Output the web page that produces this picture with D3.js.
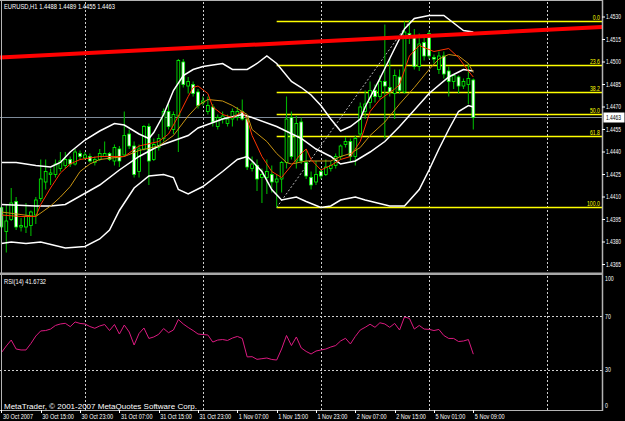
<!DOCTYPE html>
<html>
<head>
<meta charset="utf-8">
<script src="https://cdn.jsdelivr.net/npm/d3@7"></script>
<style>
body { margin: 0; background: #000; }
svg { display: block; }
text { font-family: "Liberation Sans", Arial, sans-serif; }
</style>
</head>
<body>
<script>
// EURUSD H1 candles, bar 0 = 30 Oct 2007 07:00
var openP = [1.4403,1.4387,1.4395,1.4407,1.4390,1.4390,1.4391,1.4398,1.4409,1.4420,
  1.4425,1.4425,1.4429,1.4431,1.4435,1.4432,1.4439,1.4436,1.4437,1.4433,
  1.4435,1.4437,1.4439,1.4434,1.4442,1.4438,1.4452,1.4444,1.4427,1.4442,
  1.4457,1.4435,1.4443,1.4449,1.4467,1.4455,1.4464,1.4500,1.4484,1.4485,
  1.4480,1.4473,1.4467,1.4470,1.4457,1.4462,1.4459,1.4462,1.4463,1.4467,
  1.4462,1.4429,1.4431,1.4423,1.4423,1.4425,1.4420,1.4422,1.4433,1.4463,
  1.4434,1.4460,1.4433,1.4423,1.4420,1.4427,1.4425,1.4429,1.4431,1.4437,
  1.4445,1.4447,1.4437,1.4452,1.4467,1.4473,1.4481,1.4477,1.4487,1.4483,
  1.4479,1.4490,1.4480,1.4519,1.4517,1.4497,1.4513,1.4519,1.4503,1.4495,
  1.4504,1.4494,1.4487,1.4490,1.4484,1.4485,1.4488];
var highP = [1.4408,1.4405,1.4416,1.4410,1.4396,1.4406,1.4401,1.4410,1.4435,1.4435,
  1.4429,1.4435,1.4440,1.4440,1.4437,1.4442,1.4441,1.4440,1.4439,1.4437,
  1.4442,1.4447,1.4440,1.4445,1.4444,1.4467,1.4455,1.4447,1.4445,1.4458,
  1.4459,1.4449,1.4452,1.4469,1.4472,1.4467,1.4502,1.4502,1.4490,1.4487,
  1.4482,1.4477,1.4477,1.4472,1.4465,1.4467,1.4465,1.4469,1.4470,1.4475,
  1.4464,1.4437,1.4435,1.4429,1.4435,1.4431,1.4425,1.4434,1.4477,1.4467,
  1.4464,1.4463,1.4442,1.4427,1.4434,1.4429,1.4435,1.4434,1.4439,1.4445,
  1.4450,1.4449,1.4451,1.4473,1.4481,1.4487,1.4485,1.4491,1.4525,1.4502,
  1.4495,1.4495,1.4527,1.4528,1.4522,1.4519,1.4517,1.4521,1.4505,1.4507,
  1.4507,1.4497,1.4492,1.4491,1.4489,1.4499,1.4489];
var lowP = [1.4378,1.4373,1.4394,1.4388,1.4387,1.4386,1.4384,1.4392,1.4407,1.4415,
  1.4418,1.4423,1.4427,1.4429,1.4430,1.4431,1.4435,1.4435,1.4433,1.4431,
  1.4434,1.4437,1.4434,1.4431,1.4430,1.4437,1.4442,1.4423,1.4423,1.4441,
  1.4418,1.4434,1.4441,1.4447,1.4455,1.4452,1.4440,1.4483,1.4479,1.4477,
  1.4469,1.4471,1.4465,1.4457,1.4455,1.4459,1.4457,1.4457,1.4461,1.4461,
  1.4428,1.4427,1.4414,1.4406,1.4412,1.4413,1.4403,1.4413,1.4429,1.4435,
  1.4429,1.4432,1.4422,1.4415,1.4418,1.4422,1.4424,1.4427,1.4429,1.4435,
  1.4443,1.4434,1.4431,1.4450,1.4462,1.4469,1.4473,1.4475,1.4449,1.4477,
  1.4462,1.4479,1.4479,1.4512,1.4495,1.4494,1.4501,1.4502,1.4499,1.4492,
  1.4489,1.4477,1.4482,1.4479,1.4482,1.4472,1.4455];
var closeP = [1.4390,1.4394,1.4406,1.4390,1.4391,1.4397,1.4400,1.4408,1.4422,1.4427,
  1.4426,1.4432,1.4434,1.4435,1.4432,1.4440,1.4437,1.4438,1.4434,1.4435,
  1.4439,1.4439,1.4435,1.4443,1.4434,1.4451,1.4444,1.4425,1.4442,1.4457,
  1.4434,1.4445,1.4449,1.4467,1.4457,1.4465,1.4501,1.4485,1.4487,1.4479,
  1.4471,1.4474,1.4471,1.4460,1.4463,1.4464,1.4462,1.4467,1.4467,1.4462,
  1.4430,1.4432,1.4422,1.4425,1.4427,1.4420,1.4422,1.4433,1.4462,1.4437,
  1.4459,1.4434,1.4424,1.4418,1.4425,1.4424,1.4430,1.4431,1.4437,1.4444,
  1.4447,1.4437,1.4449,1.4470,1.4472,1.4481,1.4477,1.4487,1.4484,1.4480,
  1.4491,1.4481,1.4520,1.4517,1.4497,1.4512,1.4504,1.4504,1.4502,1.4504,
  1.4492,1.4487,1.4491,1.4484,1.4487,1.4489,1.4463];

// indicator lines as [bar, price]
var upperBand = [[0,1.4433],[3,1.4433],[7,1.4431],[10,1.4430],[12,1.4433],[14,1.4440],[17,1.4448],
  [20,1.4454],[23,1.4459],[25,1.4458],[28,1.4452],[30,1.4449],[31,1.4453],[33,1.4465],[35,1.4481],
  [37,1.4491],[39,1.4495],[41,1.4497],[45,1.4499],[47,1.4495],[50,1.4495],[52,1.4499],[54,1.4504],
  [56,1.4499],[59,1.4487],[61,1.4483],[63,1.4478],[65,1.4471],[67,1.4462],[69,1.4454],[71,1.4457],
  [73,1.4462],[74,1.4470],[77,1.4489],[80,1.4509],[82,1.4522],[84,1.4529],[87,1.4531],[90,1.4531],
  [92,1.4526],[94,1.4521],[96,1.4520]];
var middleBand = [[0,1.4405],[7,1.4404],[10,1.4404],[13,1.4405],[20,1.4418],[24,1.4428],[28,1.4437],
  [32,1.4444],[38,1.4451],[40,1.4456],[45,1.4462],[49,1.4465],[51,1.4463],[56,1.4457],[61,1.4449],
  [64,1.4442],[67,1.4437],[69,1.4432],[72,1.4434],[75,1.4440],[78,1.4447],[81,1.4457],[87,1.4479],
  [91,1.4490],[94,1.4495],[96,1.4494]];
var lowerBand = [[0,1.4379],[2,1.4380],[5,1.4379],[8,1.4380],[13,1.4376],[17,1.4377],[20,1.4382],
  [22,1.4388],[24,1.4401],[27,1.4416],[30,1.4424],[33,1.4425],[35,1.4423],[36,1.4415],[38,1.4412],
  [41,1.4417],[45,1.4427],[48,1.4435],[50,1.4437],[51,1.4434],[53,1.4427],[55,1.4415],[57,1.4408],
  [60,1.4410],[62,1.4407],[65,1.4403],[67,1.4404],[69,1.4408],[72,1.4410],[74,1.4408],[79,1.4404],
  [82,1.4404],[85,1.4415],[87,1.4428],[89,1.4442],[91,1.4455],[93,1.4467],[95,1.4471],[96,1.4470]];
var fastMA = [[0,1.4398],[4,1.4397],[7,1.4397],[8,1.4405],[10,1.4416],[12,1.4426],[14,1.4432],
  [16,1.4435],[20,1.4437],[25,1.4437],[28,1.4444],[32,1.4447],[34,1.4452],[36,1.4464],[38,1.4477],
  [39,1.4483],[40,1.4484],[42,1.4479],[43,1.4470],[45,1.4465],[47,1.4463],[49,1.4467],[50,1.4462],
  [51,1.4451],[53,1.4437],[55,1.4427],[57,1.4423],[59,1.4431],[61,1.4439],[62,1.4442],[63,1.4435],
  [65,1.4428],[67,1.4431],[69,1.4435],[71,1.4437],[73,1.4447],[75,1.4467],[77,1.4475],[80,1.4482],
  [81,1.4485],[83,1.4504],[85,1.4511],[88,1.4507],[91,1.4509],[93,1.4503],[95,1.4494],[96,1.4490]];
var slowMA = [[0,1.4400],[7,1.4397],[10,1.4404],[12,1.4410],[14,1.4417],[16,1.4427],[18,1.4432],
  [20,1.4435],[25,1.4437],[28,1.4441],[32,1.4444],[35,1.4451],[38,1.4464],[40,1.4471],[42,1.4475],
  [45,1.4474],[47,1.4471],[50,1.4465],[51,1.4455],[54,1.4447],[56,1.4439],[58,1.4433],[59,1.4432],
  [62,1.4434],[65,1.4434],[67,1.4434],[69,1.4437],[71,1.4439],[73,1.4443],[75,1.4451],[78,1.4460],
  [81,1.4472],[84,1.4483],[87,1.4495],[89,1.4502],[91,1.4505],[93,1.4504],[95,1.4499],[96,1.4493]];

var rsi = [42.8,47.8,52.2,45.5,44.8,44.8,49.6,55.2,59.0,59.3,
  60.4,63.1,64.2,64.7,62.2,65.7,64.6,64.2,62.3,61.0,
  62.7,63.8,59.3,63.8,56.7,63.4,58.2,48.5,57.1,61.2,
  53.4,54.5,56.5,60.8,57.7,59.7,67.5,64.2,61.6,59.3,
  56.7,56.3,56.0,50.7,52.2,52.6,51.9,53.7,54.9,53.4,
  39.6,39.8,37.8,38.3,38.8,37.7,37.3,45.5,55.6,48.1,
  54.5,46.3,43.7,41.8,44.0,44.8,45.5,47.0,48.1,51.5,
  53.5,49.3,54.9,59.7,61.7,64.0,61.7,65.1,64.2,61.7,
  64.6,59.7,69.4,68.4,60.4,63.1,60.4,60.2,59.3,60.1,
  55.6,53.4,53.4,51.1,51.5,52.6,41.6732];

var trendLine = [[0,1.4503],[120,1.4523]];
var fibLow = [56,1.4403], fibHigh = [83,1.4527];
var fibLevels = [0, 23.6, 38.2, 50, 61.8, 100];
var fibNames = ["0.0","23.6","38.2","50.0","61.8","100.0"];
var bidPrice = 1.4463;

var priceTicks = [1.4530,1.4515,1.4500,1.4485,1.4470,1.4455,1.4440,1.4425,1.4410,1.4395,1.4380,1.4365];
var rsiTicks = [100, 70, 30, 0];
var rsiLevels = [70, 30];
var dayStarts = [17, 41, 65, 87, 111];
var timeBars = [0,8,16,24,32,40,48,56,64,72,80,88,96];
var timeLabels = ["30 Oct 2007","30 Oct 15:00","30 Oct 23:00","31 Oct 07:00","31 Oct 15:00",
  "31 Oct 23:00","1 Nov 07:00","1 Nov 15:00","1 Nov 23:00","2 Nov 07:00","2 Nov 15:00",
  "5 Nov 01:00","5 Nov 09:00"];

var W = 625, H = 421, right = 602;
var mainTop = 2, mainBot = 271, rsiTop = 276, rsiBot = 410;

var svg = d3.select("body").append("svg")
    .attr("width", W).attr("height", H)
    .style("background", "#000");

var x = d3.scaleLinear().domain([0, 96]).range([1.4, 473.3]);
var y = d3.scaleLinear().domain([1.4530, 1.4365]).range([17, 264.5]);
var yr = d3.scaleLinear().domain([0, 100]).range([410, 276]);

var defs = svg.append("defs");
defs.append("clipPath").attr("id", "clipMain").append("rect")
    .attr("x", 0).attr("y", mainTop).attr("width", right).attr("height", mainBot - mainTop);
defs.append("clipPath").attr("id", "clipRsi").append("rect")
    .attr("x", 0).attr("y", rsiTop).attr("width", right).attr("height", rsiBot - rsiTop);

// squeeze small texts like the terminal font
function narrow(sel, f) {
  sel.each(function() {
    var t = d3.select(this);
    t.attr("textLength", this.getComputedTextLength() * f).attr("lengthAdjust", "spacingAndGlyphs");
  });
}

// vertical dotted grid
var grid = svg.append("g").attr("stroke", "#cfcfcf").attr("stroke-dasharray", "2,2");
[[mainTop, mainBot], [rsiTop, rsiBot]].forEach(function(r) {
  grid.selectAll(null).data(dayStarts).enter().append("line")
    .attr("x1", function(d) { return Math.round(x(d)) + 0.5; })
    .attr("x2", function(d) { return Math.round(x(d)) + 0.5; })
    .attr("y1", r[0]).attr("y2", r[1]);
});
grid.selectAll(null).data(rsiLevels).enter().append("line")
  .attr("x1", 0).attr("x2", right)
  .attr("y1", function(d) { return Math.round(yr(d)) + 0.5; })
  .attr("y2", function(d) { return Math.round(yr(d)) + 0.5; });

var main = svg.append("g").attr("clip-path", "url(#clipMain)");

// bid line
main.append("line").attr("x1", 0).attr("x2", right)
  .attr("y1", y(bidPrice)).attr("y2", y(bidPrice))
  .attr("stroke", "#7d8a99").attr("stroke-width", 1);

// fibonacci
var fibPrice = function(l) { return fibHigh[1] - (fibHigh[1] - fibLow[1]) * l / 100; };
main.selectAll(null).data(fibLevels).enter().append("line")
  .attr("x1", x(fibLow[0])).attr("x2", right)
  .attr("y1", function(d) { return y(fibPrice(d)); })
  .attr("y2", function(d) { return y(fibPrice(d)); })
  .attr("stroke", "#ffff00").attr("stroke-width", 1.5);
main.selectAll(null).data(fibLevels).enter().append("text")
  .attr("x", 600).attr("y", function(d) { return y(fibPrice(d)) - 1.8; })
  .attr("text-anchor", "end").attr("fill", "#ffff00").attr("font-size", 6.5)
  .text(function(d, i) { return fibNames[i]; })
  .call(narrow, 0.8);
main.append("line")
  .attr("x1", x(fibLow[0])).attr("y1", y(fibLow[1]))
  .attr("x2", x(fibHigh[0])).attr("y2", y(fibHigh[1]))
  .attr("stroke", "#b8b8b8").attr("stroke-dasharray", "2,2");

// candles
var bars = d3.range(openP.length);
main.selectAll(null).data(bars).enter().append("line")
  .attr("x1", function(i) { return x(i); }).attr("x2", function(i) { return x(i); })
  .attr("y1", function(i) { return y(highP[i]); }).attr("y2", function(i) { return y(lowP[i]); })
  .attr("stroke", "#00b400").attr("stroke-width", 1.1);
main.selectAll(null).data(bars).enter().append("rect")
  .attr("x", function(i) { return x(i) - 1.4; }).attr("width", 2.8)
  .attr("y", function(i) { return y(Math.max(openP[i], closeP[i])); })
  .attr("height", function(i) { return Math.max(0.8, Math.abs(y(openP[i]) - y(closeP[i]))); })
  .attr("fill", function(i) { return closeP[i] < openP[i] ? "#ffffff" : "#000000"; })
  .attr("stroke", "#00ff00").attr("stroke-width", 0.8);

// indicators
var line = d3.line().x(function(d) { return x(d[0]); }).y(function(d) { return y(d[1]); });
[upperBand, middleBand, lowerBand].forEach(function(b) {
  main.append("path").attr("d", line(b)).attr("fill", "none")
    .attr("stroke", "#ffffff").attr("stroke-width", 1.5);
});
main.append("path").attr("d", line(slowMA)).attr("fill", "none")
  .attr("stroke", "#c89412").attr("stroke-width", 1);
main.append("path").attr("d", line(fastMA)).attr("fill", "none")
  .attr("stroke", "#ff3300").attr("stroke-width", 1);

// trend line (ray across the chart)
var tSlope = (trendLine[1][1] - trendLine[0][1]) / (trendLine[1][0] - trendLine[0][0]);
var tEnds = [-2, 124].map(function(b) { return [b, trendLine[0][1] + tSlope * (b - trendLine[0][0])]; });
main.append("path").attr("d", line(tEnds)).attr("fill", "none")
  .attr("stroke", "#ff0000").attr("stroke-width", 4);

// RSI pane
var rsiLine = d3.line().x(function(d, i) { return x(i); }).y(function(d) { return yr(d); });
svg.append("g").attr("clip-path", "url(#clipRsi)").append("path")
  .attr("d", rsiLine(rsi)).attr("fill", "none")
  .attr("stroke", "#dc1a80").attr("stroke-width", 1);

// frame
var frame = svg.append("g").attr("stroke", "#b4b4b4").attr("fill", "none");
frame.append("line").attr("x1", 0).attr("x2", right).attr("y1", 0.5).attr("y2", 0.5);
frame.append("line").attr("x1", 1.5).attr("x2", 1.5).attr("y1", 0).attr("y2", rsiBot);
frame.append("line").attr("x1", right + 0.5).attr("x2", right + 0.5).attr("y1", 0).attr("y2", rsiBot + 1)
  .attr("stroke-width", 1.5);
frame.append("line").attr("x1", 0).attr("x2", right).attr("y1", rsiBot + 0.5).attr("y2", rsiBot + 0.5);
frame.append("rect").attr("x", 0).attr("y", 272.5).attr("width", right + 1).attr("height", 2.5)
  .attr("fill", "#a8a8a8").attr("stroke", "none");

// price axis
svg.selectAll(null).data(priceTicks).enter().append("line")
  .attr("x1", right).attr("x2", right + 3)
  .attr("y1", function(d) { return y(d); }).attr("y2", function(d) { return y(d); })
  .attr("stroke", "#ffffff");
svg.selectAll(null).data(priceTicks).enter().append("text")
  .attr("x", 606).attr("y", function(d) { return y(d) + 2.3; })
  .attr("fill", "#ffffff").attr("font-size", 6.5)
  .attr("textLength", 15).attr("lengthAdjust", "spacingAndGlyphs")
  .text(function(d) { return d.toFixed(4); });
svg.append("rect").attr("x", 603.5).attr("y", y(bidPrice) - 5).attr("width", 21).attr("height", 10)
  .attr("fill", "#ffffff");
svg.append("text").attr("x", 606).attr("y", y(bidPrice) + 2.3)
  .attr("fill", "#000000").attr("font-size", 6.5)
  .attr("textLength", 15).attr("lengthAdjust", "spacingAndGlyphs")
  .text(bidPrice.toFixed(4));

// RSI axis
svg.selectAll(null).data(rsiTicks).enter().append("text")
  .attr("x", 605).attr("y", function(d) { return Math.min(408, Math.max(281, yr(d) + 2.3)); })
  .attr("fill", "#ffffff").attr("font-size", 6.5)
  .text(function(d) { return d; })
  .call(narrow, 0.8);

// time axis
svg.selectAll(null).data(timeBars).enter().append("line")
  .attr("x1", function(d) { return Math.round(x(d)) + 0.5; })
  .attr("x2", function(d) { return Math.round(x(d)) + 0.5; })
  .attr("y1", rsiBot).attr("y2", rsiBot + 3).attr("stroke", "#ffffff");
svg.selectAll(null).data(timeBars).enter().append("text")
  .attr("x", function(d) { return x(d) + 1.5; }).attr("y", 418.5)
  .attr("fill", "#ffffff").attr("font-size", 6.5)
  .text(function(d, i) { return timeLabels[i]; })
  .call(narrow, 0.85);

// legends
var last = openP.length - 1;
svg.append("text").attr("x", 4).attr("y", 8.5).attr("fill", "#ffffff").attr("font-size", 6.5)
  .attr("textLength", 111).attr("lengthAdjust", "spacingAndGlyphs")
  .text("EURUSD,H1  " + [openP[last], highP[last], lowP[last], closeP[last]].map(function(v) { return v.toFixed(4); }).join(" "));
svg.append("text").attr("x", 4).attr("y", 283.5).attr("fill", "#ffffff").attr("font-size", 6.5)
  .attr("textLength", 42).attr("lengthAdjust", "spacingAndGlyphs")
  .text("RSI(14) " + rsi[last].toFixed(4));
svg.append("text").attr("x", 4).attr("y", 409).attr("fill", "#ffffff").attr("font-size", 8)
  .attr("textLength", 193).attr("lengthAdjust", "spacingAndGlyphs")
  .text("MetaTrader, \u00a9 2001-2007 MetaQuotes Software Corp.");
</script>
</body>
</html>
